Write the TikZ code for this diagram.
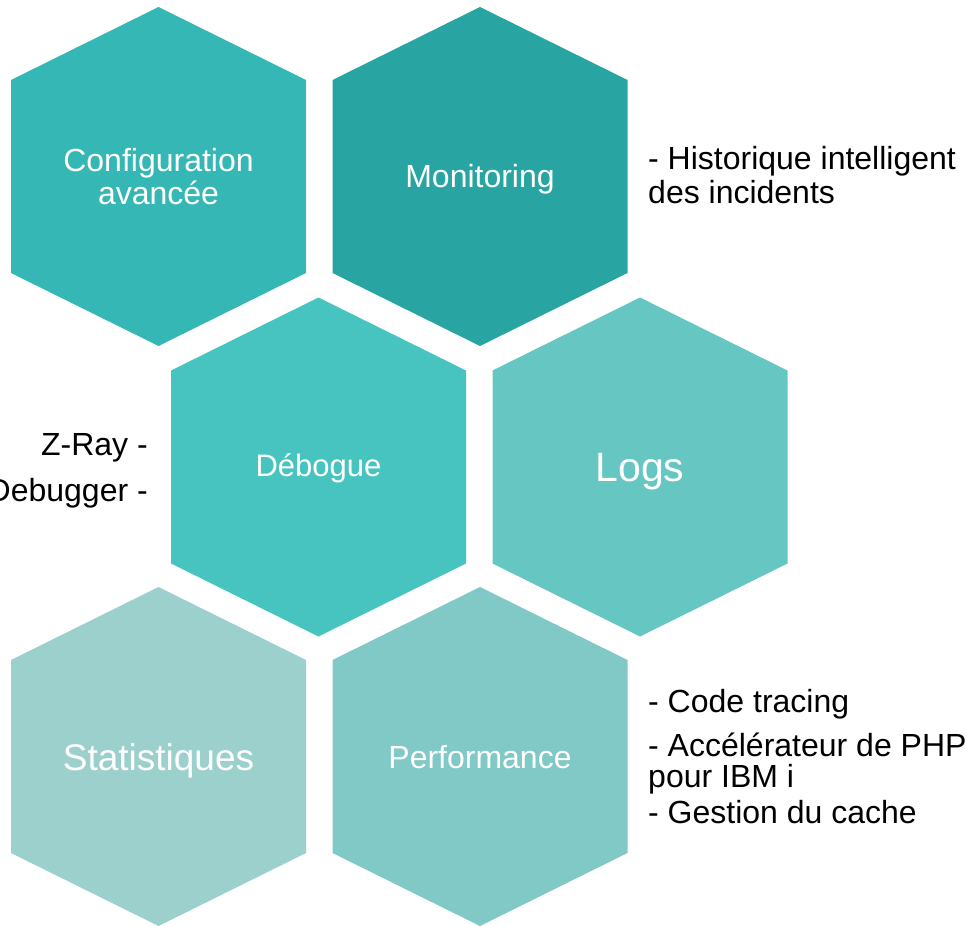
\documentclass[tikz,border=0pt]{standalone}
\usepackage{fontspec}
\setmainfont{Liberation Sans}
\definecolor{cConf}{HTML}{35B8B5}
\definecolor{cMon}{HTML}{28A5A2}
\definecolor{cDeb}{HTML}{48C4C0}
\definecolor{cLogs}{HTML}{65C6C2}
\definecolor{cStat}{HTML}{9CD0CD}
\definecolor{cPerf}{HTML}{81C9C7}
\newcommand{\hexat}[3]{%
  \fill[#3] (#1,#2) ++(0,-169.5) -- ++(147.5,73) -- ++(0,193) -- ++(-147.5,73) -- ++(-147.5,-73) -- ++(0,-193) -- cycle;}
\tikzset{
  hexlabel/.style={text=white, inner sep=0pt, anchor=base, align=center},
  sidetext/.style={text=black, inner sep=0pt, anchor=base west, font=\fontsize{32}{35}\selectfont},
  sidetextr/.style={text=black, inner sep=0pt, anchor=base east, font=\fontsize{32}{35}\selectfont}
}
\begin{document}
\begin{tikzpicture}[x=1pt,y=-1pt]
\useasboundingbox (0,0) rectangle (965,925);
\hexat{158.5}{176.5}{cConf}
\hexat{480}{176.5}{cMon}
\hexat{318.5}{467}{cDeb}
\hexat{640}{467}{cLogs}
\hexat{158.5}{756.5}{cStat}
\hexat{480}{756.5}{cPerf}
\node[hexlabel, font=\fontsize{32}{33}\selectfont] (conf) at (158.5,172) {Configuration};
\node[hexlabel, font=\fontsize{32}{33}\selectfont] (conf2) at (158.5,205) {avancée};
\node[hexlabel, font=\fontsize{32}{35}\selectfont] (mon) at (480,187.5) {Monitoring};
\node[hexlabel, font=\fontsize{31}{35}\selectfont] (deb) at (318.5,476) {Débogue};
\node[hexlabel, font=\fontsize{41}{45}\selectfont] (logs) at (640,481) {Logs};
\node[hexlabel, font=\fontsize{37}{40}\selectfont] (stat) at (158.5,770) {Statistiques};
\node[hexlabel, font=\fontsize{32}{35}\selectfont] (perf) at (480,768) {Performance};
\node[sidetext] (h1) at (648,170) {- Historique intelligent};
\node[sidetext] (h2) at (648,204) {des incidents};
\node[sidetextr] (z1) at (148,455) {Z-Ray -};
\node[sidetextr] (z2) at (148,501) {Debugger -};
\node[sidetext] (p1) at (648,712) {- Code tracing};
\node[sidetext] (p2) at (648,756) {- Accélérateur de PHP};
\node[sidetext] (p3) at (648,787) {pour IBM i};
\node[sidetext] (p4) at (648,823) {- Gestion du cache};
\end{tikzpicture}
\end{document}
